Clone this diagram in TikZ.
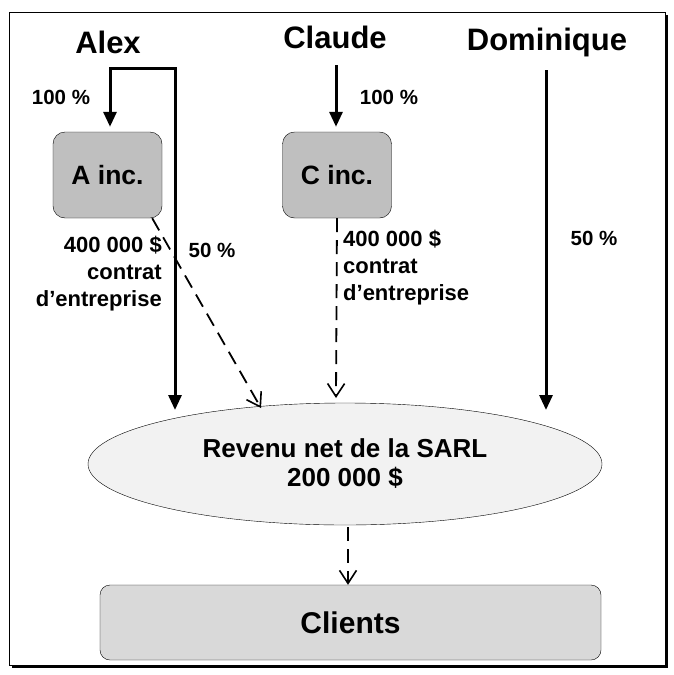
\documentclass[tikz,border=0pt]{standalone}
\usepackage{fontspec}
\setmainfont{Liberation Sans}
\usetikzlibrary{arrows.meta,shapes.geometric}
\newcommand{\bfsize}[2]{\fontsize{#1}{#2}\selectfont\bfseries}

\begin{document}
\begin{tikzpicture}[x=1pt, y=-1pt, >={Triangle[length=15pt,width=13pt]}]
        \tikzset{person/.style={anchor=base, font=\bfsize{31}{34}},
            corp/.style={draw, rounded corners=12pt, fill=black!25, minimum width=109pt, minimum height=86pt, font=\bfsize{26.5}{30}},
            pct/.style={font=\bfsize{20.5}{24}},
            amount/.style={inner sep=0pt, font=\bfsize{22}{27}},
            own/.style={line width=3pt, ->},
            pay/.style={line width=1.8pt, dash pattern=on 14pt off 8pt, -{Straight Barb[length=13pt,width=17pt,line width=1.6pt]}}}
        \useasboundingbox (0,0) rectangle (673,675);
        % frame with shadow
        \fill (11.5,14.5) rectangle (667.5,667.5);
        \draw[fill=white, line width=1pt] (9,12) rectangle (665,665);
        \node[person] (alex) at (108,53) {Alex};
        \node[person] (claude) at (335,48) {Claude};
        \node[person] (dominique) at (547,50) {Dominique};
        \node[corp] (ainc) at (107.5,175) {A inc.};
        \node[corp] (cinc) at (337,175) {C inc.};
        \node[ellipse, draw, fill=black!5, minimum width=514pt, minimum height=122pt, inner sep=0pt, align=center, font=\bfsize{26}{29}] (sarl) at (345,464) {Revenu net de la SARL\\200 000 \$};
        \node[draw, rounded corners=10pt, fill=black!15, minimum width=501pt, minimum height=75pt, font=\bfsize{30}{34}] (clients) at (350.5,622.5) {Clients};
        % shares
        \coordinate (ajoin) at (110,68);
        \coordinate (aend) at (175,410);
        \coordinate (cstart) at (336,65);
        \coordinate (dstart) at (546,70);
        \coordinate (dend) at (546,410);
        \draw[own, <->, line join=miter, shorten >=5pt] (aend) |- (ajoin) -- (ajoin |- ainc.north);
        \draw[own, shorten >=5pt] (cstart) -- (cstart |- cinc.north);
        \draw[own] (dstart) -- (dend);
        \node[pct] (ahundred) at (61,97) {100 \%};
        \node[pct] (chundred) at (389,97) {100 \%};
        \node[pct] (afifty) at (212,250) {50 \%};
        \node[pct] (dfifty) at (594,238) {50 \%};
        % contracts
        \coordinate (atip) at (261,408);
        \coordinate (ctip) at (336,398);
        \coordinate (stail) at (348,527);
        \draw[pay] ([xshift=-10pt]ainc.south east) -- (atip);
        \draw[pay] (cinc.south) -- (ctip);
        \draw[pay] (stail) -- (stail |- clients.north);
        \node[amount, align=right, anchor=north east] (acontract) at (162,236) {400 000 \$\\contrat\\d’entreprise};
        \node[amount, align=left, anchor=north west] (ccontract) at (343,230) {400 000 \$\\contrat\\d’entreprise};
    \end{tikzpicture}
\end{document}
